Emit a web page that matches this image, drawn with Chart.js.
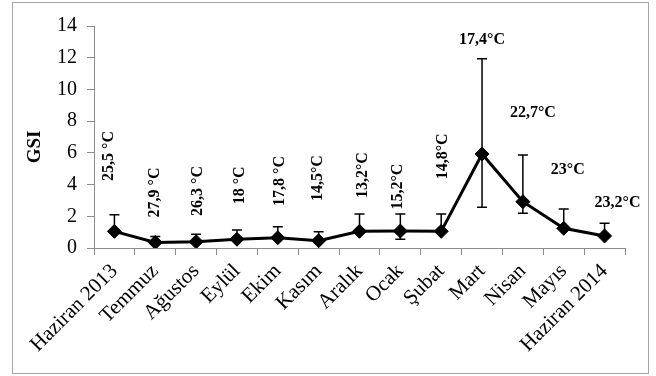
<!DOCTYPE html>
<html>
<head>
<meta charset="utf-8">
<script src="https://cdn.jsdelivr.net/npm/chart.js@4"></script>
<style>
  html, body { margin: 0; padding: 0; background: #fff; }
  #wrap { width: 656px; height: 376px; }
</style>
</head>
<body>
<div id="wrap"><canvas id="gsiChart" width="656" height="376"></canvas></div>
<script>
// Aylar
const months = ['Haziran 2013', 'Temmuz', 'Ağustos', 'Eylül', 'Ekim', 'Kasım', 'Aralık',
    'Ocak', 'Şubat', 'Mart', 'Nisan', 'Mayıs', 'Haziran 2014'];

// Ortalama GSI ve hata cubuklari
const gsi = [1.05, 0.35, 0.4, 0.55, 0.65, 0.46, 1.05, 1.07, 1.05, 5.93, 2.92, 1.24, 0.76];
const errPlus = [1.05, 0.37, 0.46, 0.58, 0.69, 0.57, 1.1, 1.07, 1.1, 6.0, 2.94, 1.22, 0.8];
const errMinus = [0, 0, 0, 0, 0, 0, 0, 0.52, 0, 3.36, 0.73, 0, 0];

// Su sicakligi etiketleri
const temps = ['25,5 °C', '27,9 °C', '26,3 °C', '18 °C', '17,8 °C', '14,5°C', '13,2°C',
    '15,2°C', '14,8°C', '17,4°C', '22,7°C', '23°C', '23,2°C'];

const yTicks = [0, 2, 4, 6, 8, 10, 12, 14];

const serif = '"Liberation Serif", "Times New Roman", serif';

// label placement (GSI units for height, px for shift)
const labelPlace = {
    at: [5.8, 3.5, 3.6, 3.95, 4.23, 4.41, 4.6, 3.87, 5.78, 13.1, 8.5, 4.9, 2.84],
    dx: [-6, 0, 2, 3, 2, -1, 3, -2, 2, 0, 10, 4, 13],
    vertical: [true, true, true, true, true, true, true, true, true, false, false, false, false]
};

const errorBars = {
    id: 'errorBars',
    beforeDatasetsDraw(chart) {
        const ctx = chart.ctx;
        const x = chart.scales.x, y = chart.scales.y;
        ctx.save();
        ctx.strokeStyle = '#000';
        ctx.lineWidth = 1.5;
        gsi.forEach(function(v, i) {
            const px = x.getPixelForValue(i);
            const top = y.getPixelForValue(v + errPlus[i]);
            const bot = y.getPixelForValue(v - errMinus[i]);
            ctx.beginPath();
            ctx.moveTo(px, top);
            ctx.lineTo(px, bot);
            ctx.moveTo(px - 5, top);
            ctx.lineTo(px + 5, top);
            if (errMinus[i] > 0) {
                ctx.moveTo(px - 5, bot);
                ctx.lineTo(px + 5, bot);
            }
            ctx.stroke();
        });
        ctx.restore();
    }
};

const tempLabels = {
    id: 'tempLabels',
    afterDatasetsDraw(chart) {
        const ctx = chart.ctx;
        const x = chart.scales.x, y = chart.scales.y;
        ctx.save();
        ctx.fillStyle = '#000';
        ctx.font = 'bold 16px ' + serif;
        ctx.textAlign = 'center';
        ctx.textBaseline = 'middle';
        temps.forEach(function(t, i) {
            const px = x.getPixelForValue(i) + labelPlace.dx[i];
            const py = y.getPixelForValue(labelPlace.at[i]);
            ctx.save();
            ctx.translate(px, py);
            if (labelPlace.vertical[i]) ctx.rotate(-Math.PI / 2);
            ctx.fillText(t, 0, 0);
            ctx.restore();
        });
        // eksen basligi
        ctx.font = 'bold 19px ' + serif;
        ctx.translate(35, 147);
        ctx.rotate(-Math.PI / 2);
        ctx.fillText('GSI', 0, 0);
        ctx.restore();
    }
};

const frame = {
    id: 'frame',
    beforeDraw(chart) {
        const ctx = chart.ctx;
        ctx.save();
        ctx.fillStyle = '#fff';
        ctx.fillRect(0, 0, chart.width, chart.height);
        ctx.strokeStyle = '#a6a6a6';
        ctx.lineWidth = 1;
        ctx.strokeRect(12.5, 2.5, 636, 371);
        ctx.restore();
    }
};

const ctx = document.getElementById('gsiChart').getContext('2d');
new Chart(ctx, {
    type: 'line',
    data: {
        labels: months,
        datasets: [{
            label: 'GSI',
            data: gsi,
            borderColor: '#000',
            borderWidth: 3,
            tension: 0,
            pointStyle: 'rectRot',
            pointRadius: 7,
            pointBackgroundColor: '#000',
            pointBorderColor: '#000',
            pointBorderWidth: 1
        }]
    },
    options: {
        responsive: false,
        animation: false,
        devicePixelRatio: 1,
        layout: {
            padding: { left: 12, top: 26, right: 31, bottom: 3 }
        },
        plugins: {
            legend: { display: false },
            tooltip: { enabled: false }
        },
        scales: {
            x: {
                type: 'category',
                offset: true,
                grid: {
                    offset: true,
                    drawOnChartArea: false,
                    tickLength: 7,
                    color: '#8c8c8c'
                },
                border: { color: '#8c8c8c', width: 1 },
                ticks: {
                    autoSkip: false,
                    minRotation: 45,
                    maxRotation: 45,
                    padding: 4,
                    color: '#000',
                    font: { family: serif, size: 21 }
                },
                afterFit: function(scale) { scale.height = 125; }
            },
            y: {
                min: 0,
                max: 14,
                afterBuildTicks: function(scale) {
                    scale.ticks = yTicks.map(v => ({ value: v }));
                },
                grid: {
                    drawOnChartArea: false,
                    tickLength: 7,
                    color: '#8c8c8c'
                },
                border: { color: '#8c8c8c', width: 1 },
                ticks: {
                    padding: 10,
                    color: '#000',
                    font: { family: serif, size: 20 }
                },
                afterFit: function(scale) { scale.width = 82; }
            }
        }
    },
    plugins: [frame, errorBars, tempLabels]
});
</script>
</body>
</html>
